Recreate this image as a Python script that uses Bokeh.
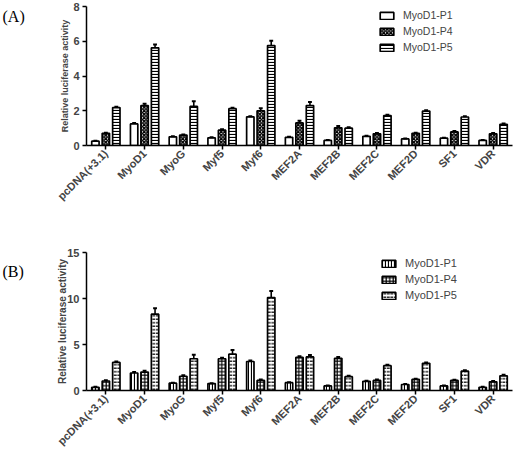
import math
from bokeh.plotting import figure
from bokeh.models import FactorRange, Range1d, Legend, LegendItem, ColumnDataSource, FixedTicker
from bokeh.layouts import column, row
from bokeh.transform import dodge
from bokeh.embed import file_html
from bokeh.resources import INLINE
from bokeh.core.properties import value

categories = ["pcDNA(+3.1)", "MyoD1", "MyoG", "Myf5", "Myf6", "MEF2A",
              "MEF2B", "MEF2C", "MEF2D", "SF1", "VDR"]
series = ["MyoD1-P1", "MyoD1-P4", "MyoD1-P5"]
panel_tags = ["(A)", "(B)"]

# Panel A values / errors
a_p1 = [0.25, 1.24, 0.50, 0.44, 1.65, 0.47, 0.29, 0.53, 0.38, 0.42, 0.29]
a_p4 = [0.70, 2.30, 0.60, 0.88, 2.00, 1.30, 1.02, 0.67, 0.70, 0.78, 0.67]
a_p5 = [2.18, 5.62, 2.25, 2.12, 5.75, 2.30, 1.00, 1.72, 1.98, 1.64, 1.22]
a_p1_err = [0.02, 0.05, 0.03, 0.03, 0.04, 0.03, 0.02, 0.03, 0.02, 0.03, 0.02]
a_p4_err = [0.04, 0.10, 0.04, 0.06, 0.15, 0.13, 0.10, 0.05, 0.04, 0.05, 0.05]
a_p5_err = [0.05, 0.20, 0.30, 0.05, 0.28, 0.20, 0.05, 0.05, 0.05, 0.05, 0.05]
a_ticks = [0, 2, 4, 6, 8]

# Panel B values / errors
b_p1 = [0.35, 1.90, 0.80, 0.75, 3.15, 0.85, 0.50, 1.00, 0.65, 0.50, 0.35]
b_p4 = [1.03, 2.00, 1.55, 3.45, 1.10, 3.60, 3.50, 1.10, 1.20, 1.10, 0.95]
b_p5 = [3.05, 8.30, 3.45, 3.95, 10.10, 3.65, 1.50, 2.70, 2.95, 2.10, 1.60]
b_p1_err = [0.05, 0.10, 0.05, 0.05, 0.10, 0.05, 0.05, 0.05, 0.05, 0.05, 0.05]
b_p4_err = [0.08, 0.15, 0.10, 0.10, 0.10, 0.12, 0.15, 0.10, 0.08, 0.08, 0.08]
b_p5_err = [0.10, 0.64, 0.43, 0.45, 0.72, 0.20, 0.10, 0.10, 0.10, 0.10, 0.10]
b_ticks = [0, 5, 10, 15]

FONT = "Liberation Sans"
TAG_W = 30


def make_tag(tag, height, top_gap):
    t = figure(width=TAG_W, height=height, x_range=Range1d(0, TAG_W),
               y_range=Range1d(height, 0), x_axis_type=None, y_axis_type=None,
               output_backend="svg", toolbar_location=None, min_border=0)
    t.outline_line_color = None
    t.xgrid.visible = False
    t.ygrid.visible = False
    t.text(x=[2], y=[top_gap], text=[tag], text_baseline="top",
           text_align="left", text_font=value("Liberation Serif"),
           text_font_size="16px", text_color="black")
    return t


def make_panel(vals, errs, hatches, y_end, ticks, height, b_top, b_bottom,
               axis_label_size, label_standoff, legend_size, legend_loc):
    p = figure(width=520 - TAG_W, height=height, x_range=FactorRange(*categories),
               y_range=Range1d(0, y_end), output_backend="svg",
               toolbar_location=None, min_border_left=86 - TAG_W,
               min_border_right=8, min_border_top=b_top,
               min_border_bottom=b_bottom)
    p.outline_line_color = None
    p.xgrid.visible = False
    p.ygrid.visible = False
    p.background_fill_color = "white"

    offsets = [-0.27, 0.0, 0.27]
    items = []
    for i, (v, e, h) in enumerate(zip(vals, errs, hatches)):
        src = ColumnDataSource(dict(cat=categories, top=v,
                                    hi=[a + b for a, b in zip(v, e)]))
        xs = dodge("cat", offsets[i], range=p.x_range)
        r = p.vbar(x=xs, top="top", bottom=0, width=0.19, source=src,
                   fill_color=h["fill"], line_color="black", line_width=1.7,
                   hatch_pattern=h["pattern"], hatch_scale=h["scale"],
                   hatch_color=h["hcolor"], hatch_weight=h["weight"])
        p.segment(x0=xs, y0="top", x1=xs, y1="hi", source=src,
                  line_color="black", line_width=1.6)
        p.segment(x0=dodge("cat", offsets[i] - 0.05, range=p.x_range), y0="hi",
                  x1=dodge("cat", offsets[i] + 0.05, range=p.x_range), y1="hi",
                  source=src, line_color="black", line_width=2)
        items.append(LegendItem(label=series[i], renderers=[r]))

    leg = Legend(items=items, location=legend_loc, border_line_color=None,
                 background_fill_alpha=0, label_text_font=FONT,
                 label_text_font_size=legend_size, glyph_width=17,
                 glyph_height=9, spacing=4, padding=2, label_height=10,
                 label_standoff=8)
    p.add_layout(leg)

    ya = p.yaxis[0]
    ya.ticker = FixedTicker(ticks=ticks)
    ya.axis_label = "Relative luciferase activity"
    ya.axis_label_text_font = FONT
    ya.axis_label_text_font_style = "bold"
    ya.axis_label_text_font_size = axis_label_size
    ya.axis_label_standoff = label_standoff
    ya.major_label_standoff = 3
    ya.major_label_text_font = FONT
    ya.major_label_text_font_style = "bold"
    ya.major_label_text_font_size = "11px"
    ya.major_tick_in = 0
    ya.major_tick_out = 4
    ya.minor_tick_out = 0
    ya.minor_tick_in = 0
    ya.axis_line_width = 1.5
    ya.major_tick_line_width = 1.5

    xa = p.xaxis[0]
    xa.major_label_orientation = math.pi / 4
    xa.major_label_text_font = FONT
    xa.major_label_text_font_style = "bold"
    xa.major_label_text_font_size = "11px"
    xa.major_tick_in = 0
    xa.major_tick_out = 4
    xa.axis_line_width = 1.5
    xa.major_tick_line_width = 1.5
    xa.major_label_standoff = 2
    return p


hatch_a = [
    dict(fill="white", pattern=" ", scale=4, hcolor="black", weight=1),
    dict(fill="white", pattern="diagonal_cross", scale=3.5, hcolor="black", weight=1.5),
    dict(fill="white", pattern="horizontal_line", scale=3, hcolor="black", weight=1.2),
]
hatch_b = [
    dict(fill="white", pattern="vertical_line", scale=3, hcolor="black", weight=1.2),
    dict(fill="white", pattern="cross", scale=3.5, hcolor="black", weight=1.2),
    dict(fill="white", pattern="horizontal_dash", scale=3.5, hcolor="black", weight=1.2),
]

H_A, H_B = 222, 232
pA = make_panel([a_p1, a_p4, a_p5], [a_p1_err, a_p4_err, a_p5_err], hatch_a,
                8, a_ticks, H_A, 6, 77, "9px", 0, "10.5px", (292, 92))
pB = make_panel([b_p1, b_p4, b_p5], [b_p1_err, b_p4_err, b_p5_err], hatch_b,
                15, b_ticks, H_B, 30, 62, "10px", -4, "11px", (294, 89))
tA = make_tag(panel_tags[0], H_A, 3)
tB = make_tag(panel_tags[1], H_B, 18)

layout = column(row(tA, pA, spacing=0), row(tB, pB, spacing=0), spacing=0)
open("out.html", "w").write(file_html(layout, INLINE))
